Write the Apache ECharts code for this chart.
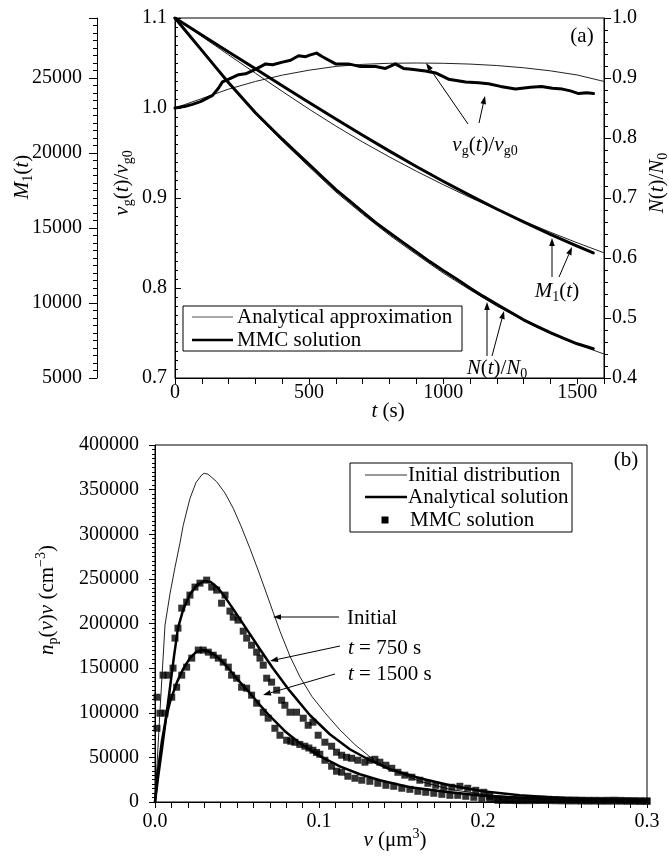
<!DOCTYPE html>
<html><head><meta charset="utf-8">
<script src="https://cdn.jsdelivr.net/npm/echarts/dist/echarts.min.js"></script>
<style>html,body{margin:0;padding:0;background:#fff}#c{width:669px;height:858px}</style>
</head><body><div id="c"></div>
<script>
// ---------- Panel (a) data ----------
const tApprox = [0,100,200,300,400,500,600,700,800,900,1000,1100,1200,1300,1400,1500,1600];
const vgApprox = [1.0,1.0105,1.021,1.0295,1.0365,1.042,1.0462,1.0485,1.0497,1.05,1.0497,1.0488,1.0472,1.0447,1.0413,1.0367,1.0295];
const nApprox = [1.0,0.945,0.891,0.840,0.795,0.752,0.710,0.673,0.638,0.606,0.575,0.547,0.520,0.496,0.474,0.456,0.440];
const m1Approx = [29000,27770,26540,25317,24107,22924,21794,20730,19733,18789,17891,17040,16229,15458,14720,14015,13344];

const vgMmcT = [0,39,65,95,140,162,177,207,237,263,300,338,364,401,431,461,487,505,528,550,599,647,692,748,785,822,852,882,934,972,1020,1084,1132,1169,1214,1270,1326,1367,1408,1445,1475,1505,1535,1561];
const vgMmc = [1.000,1.002,1.004,1.007,1.014,1.022,1.029,1.033,1.037,1.038,1.043,1.049,1.048,1.051,1.053,1.058,1.057,1.059,1.061,1.057,1.049,1.049,1.046,1.046,1.044,1.049,1.044,1.043,1.041,1.039,1.032,1.029,1.028,1.027,1.024,1.021,1.023,1.024,1.022,1.021,1.019,1.016,1.017,1.016];

const nMmcT = [0,50,100,150,200,250,300,350,400,450,500,550,600,650,700,750,800,850,900,950,1000,1050,1100,1150,1200,1250,1300,1350,1400,1450,1500,1560];
const nMmc = [1.000,0.973,0.946,0.919,0.892,0.867,0.842,0.820,0.798,0.777,0.756,0.735,0.714,0.6955,0.677,0.6585,0.642,0.626,0.610,0.594,0.579,0.565,0.550,0.536,0.523,0.510,0.497,0.486,0.4755,0.466,0.457,0.449];

const m1MmcT = [0,100,200,300,400,500,600,700,800,900,1000,1100,1200,1300,1400,1500,1560];
const m1Mmc = [29000,27870,26740,25610,24486,23370,22266,21182,20125,19101,18117,17173,16269,15405,14580,13796,13344];

const xTicksA = [0,500,1000,1500];

// ---------- Panel (b) data ----------
const initV = [0,0.003,0.0061,0.0091,0.0122,0.0152,0.0172,0.0213,0.025,0.0285,0.03,0.0323,0.0376,0.0427,0.0477,0.0524,0.0579,0.0628,0.0681,0.0719,0.0762,0.0823,0.0884,0.0957,0.1036,0.1127,0.1219,0.1341,0.1463,0.1615,0.1798,0.1999,0.2224,0.2498,0.2773,0.2998];
const initVal = [0,100600,198100,232900,263000,290000,310000,340000,358000,366500,368300,367300,358900,346100,329100,309400,284100,260100,233100,213300,191400,163300,140100,118200,100000,80900,64300,46000,34400,23200,14200,8600,4800,2600,1600,1200];

const a750V = [0,0.0018,0.0043,0.0067,0.0091,0.0116,0.014,0.0171,0.0213,0.0256,0.0299,0.0341,0.0384,0.0427,0.0469,0.0518,0.0579,0.064,0.0719,0.0823,0.0945,0.1066,0.1188,0.131,0.1432,0.1615,0.1798,0.1999,0.2224,0.2498,0.2773,0.2998];
const a750Val = [0,26600,60200,93900,127500,163400,194800,215000,232900,243000,247500,246400,239700,229600,218300,204900,188100,171200,149900,124200,97200,75900,59100,46800,36700,26600,18700,12000,7500,4100,2500,1900];

const a1500V = [0,0.0018,0.0043,0.0067,0.0091,0.0134,0.0171,0.0213,0.025,0.0286,0.0323,0.0366,0.0408,0.0457,0.0518,0.0579,0.064,0.0701,0.0792,0.0884,0.1005,0.1127,0.1249,0.1371,0.1554,0.1798,0.1999,0.2285,0.259,0.2998];
const a1500Val = [0,35500,69200,93900,111900,134300,148800,161200,168000,170200,169000,164500,157800,147700,134300,122000,108500,96100,79300,65800,51300,40000,31100,24400,16500,10900,7000,4100,2500,1600];

const m750V = [0.0012,0.0049,0.0079,0.011,0.0122,0.014,0.0163,0.0193,0.0213,0.0244,0.0274,0.0315,0.0346,0.0376,0.0406,0.0427,0.0457,0.0477,0.0506,0.0538,0.0559,0.0589,0.062,0.064,0.066,0.0681,0.0711,0.0742,0.0772,0.0792,0.0823,0.0863,0.0904,0.0934,0.0963,0.0995,0.1036,0.1077,0.1107,0.1138,0.1168,0.1199,0.1237,0.128,0.131,0.1341,0.1371,0.1408,0.1444,0.1481,0.1523,0.1566,0.1615,0.1664,0.1712,0.1761,0.181,0.1859,0.1907,0.1956,0.2005,0.2041,0.2078,
 0.212,0.216,0.220,0.224,0.228,0.232,0.236,0.240,0.244,0.248,0.252,0.256,0.260,0.264,0.268,0.272,0.276,0.280,0.284,0.288,0.292,0.296,0.300];
const m750Val = [117400,142100,142100,150000,183600,194800,217200,224000,231800,240800,245200,248600,240800,237400,222800,231800,213900,207100,203800,191400,183600,175700,167900,161200,153300,138700,134300,125300,114000,108400,100600,100600,93900,86000,89400,74800,67000,62500,55800,52400,50100,49000,46800,44600,46800,47900,44600,41200,37800,33300,30100,27800,24400,21000,18700,16500,16500,17600,15400,13100,10900,6400,3000,
 3000,2800,2500,2500,2700,3000,3200,3000,2800,2500,2300,2200,2000,1900,1900,1800,1900,2000,1800,1600,1500,1400,1300];

const m1500V = [0.0012,0.003,0.0061,0.0102,0.0132,0.0163,0.0193,0.0224,0.0264,0.0294,0.0325,0.0355,0.0386,0.0416,0.0447,0.0467,0.0498,0.0528,0.0559,0.0589,0.062,0.066,0.069,0.0731,0.0762,0.0803,0.0828,0.0853,0.0883,0.0914,0.0938,0.0963,0.0985,0.1005,0.1036,0.1077,0.1107,0.1138,0.1176,0.1219,0.1261,0.131,0.1359,0.1408,0.1456,0.1505,0.1554,0.1603,0.1651,0.17,0.1749,0.1798,0.1846,0.1895,0.1944,0.1993,0.2041,0.209,
 0.212,0.216,0.220,0.224,0.228,0.232,0.236,0.240,0.244,0.248,0.252,0.256,0.260,0.264,0.268,0.272,0.276,0.280,0.284,0.288,0.292,0.296,0.300];
const m1500Val = [82600,99500,99500,117400,128600,142100,151100,161200,170200,170200,167900,164500,161200,156700,151100,142100,138700,128600,127500,119700,110700,100600,93900,82600,74800,69200,68000,66900,64500,62500,60500,58000,55500,53500,46800,40100,34500,33400,28900,26600,24400,23200,21000,18700,17600,15400,14200,12000,10900,9800,8600,7500,7500,6400,5300,4100,3000,1900,
 1800,1700,1600,1500,1500,1600,1700,1600,1400,1300,1200,1200,1100,1000,1000,900,900,1000,900,800,800,700,700];

// ---------- rendering ----------
const FONT = 'Liberation Serif';
const zip = (a, b) => a.map((x, i) => [x, b[i]]);
const blk = {color:'#000', width:1};
const lab = {color:'#000', fontFamily:FONT, fontSize:20};

function yAx(o) {
  return Object.assign({
    type:'value', axisLine:{show:true, onZero:false, lineStyle:blk},
    axisTick:{show:true, lineStyle:blk}, minorTick:{show:true, lineStyle:blk},
    splitLine:{show:false}, minorSplitLine:{show:false}
  }, o);
}

const rich = {
  i:{fontFamily:FONT, fontStyle:'italic', fontSize:21, lineHeight:26, color:'#000'},
  n:{fontFamily:FONT, fontSize:21, lineHeight:26, color:'#000'},
  s:{fontFamily:FONT, fontSize:14, lineHeight:14, verticalAlign:'bottom', color:'#000'},
  u:{fontFamily:FONT, fontSize:14, lineHeight:14, verticalAlign:'top', color:'#000'}
};
function txt(x, y, text, align, rot) {
  align = align || 'center';
  return {type:'text', x:x, y:y, rotation:rot || 0, z:100,
    style:{text:text, rich:rich, font:'21px "Liberation Serif"', fill:'#000',
      align:align, verticalAlign:'middle', textAlign:align, textVerticalAlign:'middle'}};
}
function arrow(x1, y1, x2, y2) {
  const a = Math.atan2(y2 - y1, x2 - x1), L = 8, W = 2.8;
  const bx = x2 - L * Math.cos(a), by = y2 - L * Math.sin(a);
  const px = -Math.sin(a) * W, py = Math.cos(a) * W;
  return [
    {type:'line', z:100, shape:{x1:x1, y1:y1, x2:bx, y2:by}, style:{stroke:'#000', lineWidth:1}},
    {type:'polygon', z:100, shape:{points:[[x2, y2], [bx + px, by + py], [bx - px, by - py]]}, style:{fill:'#000'}}
  ];
}
function hline(x1, x2, y, w, c) {
  return {type:'line', z:100, shape:{x1:x1, y1:y, x2:x2, y2:y}, style:{stroke:c || '#000', lineWidth:w}};
}
const R = Math.PI / 2;
const vgTxt = '{i|v}{s|g}{n|(}{i|t}{n|)/}{i|v}{s|g0}';

const graphics = [
  txt(22, 177, '{i|M}{s|1}{n|(}{i|t}{n|)}', 'center', R),
  txt(122, 183, vgTxt, 'center', R),
  txt(657, 183, '{i|N}{n|(}{i|t}{n|)/}{i|N}{s|0}', 'center', R),
  txt(388, 411, '{i|t}{n| (s)}'),
  txt(582, 36, '{n|(a)}'),
  txt(485, 145, vgTxt),
  txt(557, 291, '{i|M}{s|1}{n|(}{i|t}{n|)}'),
  txt(497, 368, '{i|N}{n|(}{i|t}{n|)/}{i|N}{s|0}'),
  {type:'rect', z:100, shape:{x:183, y:306, width:279, height:45}, style:{fill:'#fff', stroke:'#000', lineWidth:1}},
  hline(192, 233, 317, 1, '#555'),
  hline(192, 233, 340, 2.5),
  txt(237, 317, '{n|Analytical approximation}', 'left'),
  txt(237, 340, '{n|MMC solution}', 'left'),
  ...arrow(468, 124, 426, 63),
  ...arrow(479, 123, 485, 96),
  ...arrow(552, 277, 552, 238),
  ...arrow(559, 277, 572, 247),
  ...arrow(487, 356, 487, 302),
  ...arrow(492, 356, 504, 311),
  // panel b
  txt(47, 600, '{i|n}{s|p}{n|(}{i|v}{n|)}{i|v}{n| (cm}{u|−3}{n|)}', 'center', R),
  txt(395, 840, '{i|v}{n| (μm}{u|3}{n|)}'),
  txt(626, 460, '{n|(b)}'),
  {type:'rect', z:100, shape:{x:350, y:463, width:222, height:69}, style:{fill:'#fff', stroke:'#000', lineWidth:1}},
  hline(365, 407, 475, 1, '#333'),
  hline(365, 407, 497, 2.5),
  {type:'rect', z:100, shape:{x:381.5, y:516.5, width:7, height:7}, style:{fill:'#000'}},
  txt(408, 475, '{n|Initial distribution}', 'left'),
  txt(408, 497, '{n|Analytical solution}', 'left'),
  txt(410, 520, '{n|MMC solution}', 'left'),
  txt(347, 618, '{n|Initial}', 'left'),
  txt(348, 648, '{i|t}{n| = 750 s}', 'left'),
  txt(348, 674, '{i|t}{n| = 1500 s}', 'left'),
  ...arrow(339, 617, 273, 617),
  ...arrow(340, 646, 270, 661),
  ...arrow(335, 674, 263, 695)
];

function lineS(xi, yi, data, w, col, z) {
  return {type:'line', xAxisIndex:xi, yAxisIndex:yi, data:data, symbol:'none', showSymbol:false,
    smooth:false, lineStyle:{color:col || '#000', width:w, join:'round', cap:'round'}, z:z || 2, silent:true};
}
function sqS(data) {
  return {type:'scatter', xAxisIndex:1, yAxisIndex:3, data:data, symbol:'rect', symbolSize:7,
    itemStyle:{color:'#000'}, z:4, silent:true};
}

const chart = echarts.init(document.getElementById('c'), null, {renderer:'canvas'});
chart.setOption({
  animation:false,
  backgroundColor:'#fff',
  grid:[
    {left:175, top:18, width:429, height:360, show:true, borderColor:'#000', borderWidth:1},
    {left:155, top:445, width:492, height:357, show:true, borderColor:'#000', borderWidth:1}
  ],
  xAxis:[
    {gridIndex:0, type:'value', min:0, max:1600, interval:500,
      axisLine:{onZero:false, lineStyle:blk}, axisTick:{length:6, lineStyle:blk},
      minorTick:{show:true, splitNumber:5, length:6, lineStyle:blk},
      splitLine:{show:false}, minorSplitLine:{show:false},
      axisLabel:Object.assign({margin:5, formatter:v => xTicksA.indexOf(v) >= 0 ? String(v) : ''}, lab)},
    {gridIndex:1, type:'value', min:0, max:0.3, interval:0.1,
      axisLine:{onZero:false, lineStyle:blk}, axisTick:{length:6, lineStyle:blk},
      minorTick:{show:true, splitNumber:10, length:6, lineStyle:blk},
      splitLine:{show:false}, minorSplitLine:{show:false},
      axisLabel:Object.assign({margin:10, formatter:v => v.toFixed(1)}, lab)}
  ],
  yAxis:[
    yAx({gridIndex:0, position:'left', min:0.7, max:1.1, interval:0.1,
      axisTick:{show:true, inside:true, length:6, lineStyle:blk},
      minorTick:{show:true, splitNumber:10, length:3, lineStyle:blk},
      axisLabel:Object.assign({margin:8, formatter:v => v.toFixed(1)}, lab)}),
    yAx({gridIndex:0, position:'right', min:0.4, max:1.0, interval:0.1,
      axisTick:{show:true, length:7, lineStyle:blk},
      minorTick:{show:true, splitNumber:5, length:4, lineStyle:blk},
      axisLabel:Object.assign({margin:8, formatter:v => v.toFixed(1)}, lab)}),
    yAx({gridIndex:0, position:'left', offset:78, min:5000, max:29000, interval:5000,
      axisTick:{show:true, length:8, lineStyle:blk},
      minorTick:{show:true, splitNumber:10, length:4, lineStyle:blk},
      axisLabel:Object.assign({margin:15, formatter:v => v >= 29000 ? '' : String(v)}, lab)}),
    yAx({gridIndex:1, position:'left', min:0, max:400000, interval:50000,
      axisTick:{show:true, length:6, lineStyle:blk},
      minorTick:{show:true, splitNumber:10, length:3, lineStyle:blk},
      axisLabel:Object.assign({margin:16, formatter:v => String(v)}, lab)})
  ],
  series:[
    lineS(0, 0, zip(tApprox, vgApprox), 1, '#222'),
    lineS(0, 1, zip(tApprox, nApprox), 1, '#222'),
    lineS(0, 2, zip(tApprox, m1Approx), 1, '#222'),
    lineS(0, 0, zip(vgMmcT, vgMmc), 3, '#000', 3),
    lineS(0, 1, zip(nMmcT, nMmc), 3, '#000', 3),
    lineS(0, 2, zip(m1MmcT, m1Mmc), 3, '#000', 3),
    lineS(1, 3, zip(initV, initVal), 1, '#222'),
    lineS(1, 3, zip(a750V, a750Val), 2.5, '#000', 3),
    lineS(1, 3, zip(a1500V, a1500Val), 2.5, '#000', 3),
    sqS(zip(m750V, m750Val)),
    sqS(zip(m1500V, m1500Val))
  ],
  graphic:{elements:graphics}
});
</script></body></html>
